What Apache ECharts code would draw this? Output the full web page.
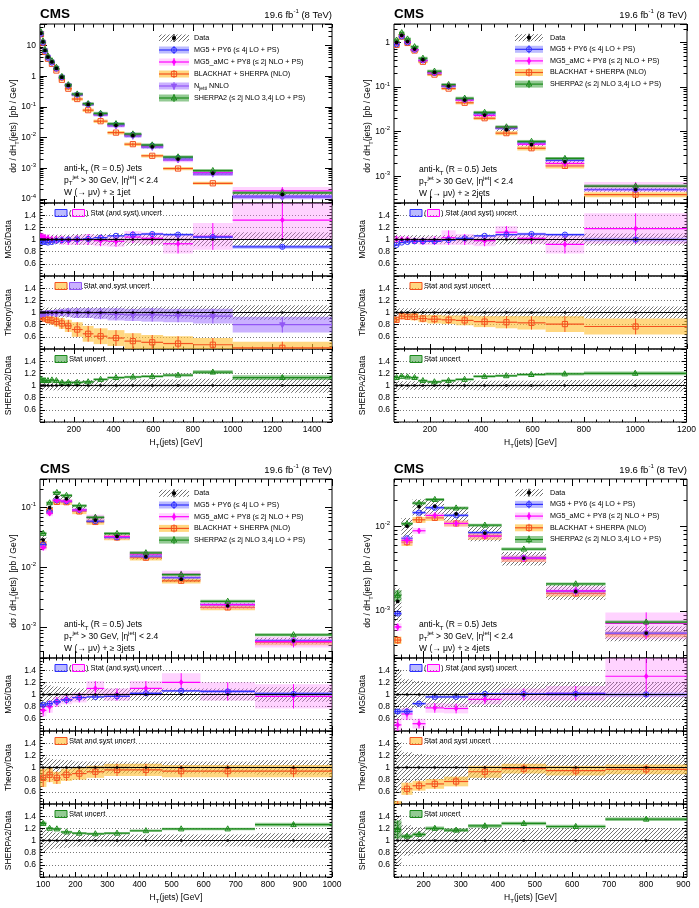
<!DOCTYPE html>
<html>
<head>
<meta charset="utf-8">
<title>W + jets, HT(jets)</title>
<script src="https://cdn.jsdelivr.net/npm/echarts@6.0.0/dist/echarts.min.js"></script>
<style>
html, body { margin: 0; padding: 0; background: #fff; }
#chart { width: 699px; height: 908px; }
</style>
</head>
<body>
<div id="chart"></div>
<script>
// ---- W + >= 1 jet ----
var edges1 = [30, 40, 50, 60, 80, 100, 125, 155, 190, 245, 300, 370, 455, 540, 650, 800, 1000, 1500];
var data1 = [25, 13, 6.9, 4.2, 2.9, 1.8, 0.93, 0.5, 0.25, 0.12, 0.056, 0.025, 0.0115, 0.005, 0.002, 6.9e-4, 1.4e-4];
var dataErr1 = [0.08, 0.08, 0.08, 0.08, 0.08, 0.08, 0.08, 0.08, 0.09, 0.09, 0.09, 0.1, 0.1, 0.1, 0.1, 0.11, 0.12];
var mg5R1 = [0.97, 0.96, 0.96, 0.95, 0.96, 0.98, 0.99, 1.0, 1.0, 1.01, 1.03, 1.06, 1.08, 1.09, 1.08, 1.04, 0.88];
var mg5E1 = [0.01, 0.01, 0.01, 0.01, 0.01, 0.01, 0.01, 0.01, 0.01, 0.01, 0.01, 0.01, 0.015, 0.015, 0.02, 0.02, 0.03];
var amcR1 = [1.05, 1.04, 1.03, 1.02, 1.0, 1.0, 0.99, 0.98, 0.99, 1.0, 0.98, 0.97, 1.04, 1.02, 0.93, 1.05, 1.32];
var amcE1 = [0.06, 0.06, 0.06, 0.06, 0.06, 0.06, 0.07, 0.07, 0.08, 0.09, 0.09, 0.09, 0.1, 0.1, 0.16, 0.22, 0.32];
var bhR1 = [0.93, 0.92, 0.9, 0.88, 0.87, 0.85, 0.82, 0.78, 0.72, 0.65, 0.61, 0.58, 0.53, 0.51, 0.49, 0.47, 0.42];
var bhE1 = [0.03, 0.04, 0.05, 0.06, 0.07, 0.08, 0.09, 0.1, 0.12, 0.13, 0.13, 0.13, 0.13, 0.12, 0.12, 0.11, 0.1];
var njR1 = [0.97, 0.98, 0.98, 0.99, 0.99, 0.99, 1.0, 1.0, 0.99, 0.99, 0.98, 0.97, 0.96, 0.96, 0.95, 0.94, 0.8];
var njE1 = [0.05, 0.05, 0.05, 0.05, 0.05, 0.06, 0.06, 0.07, 0.08, 0.08, 0.09, 0.1, 0.1, 0.11, 0.11, 0.12, 0.13];
var sh2R1 = [1.1, 1.08, 1.08, 1.08, 1.09, 1.08, 1.05, 1.05, 1.05, 1.06, 1.1, 1.13, 1.14, 1.15, 1.17, 1.22, 1.13];
var sh2E1 = [0.02, 0.02, 0.02, 0.02, 0.02, 0.02, 0.02, 0.02, 0.02, 0.02, 0.02, 0.02, 0.02, 0.02, 0.025, 0.03, 0.04];

// ---- W + >= 2 jets ----
var edges2 = [60, 80, 100, 125, 155, 190, 245, 300, 370, 455, 540, 650, 800, 1200];
var data2 = [1.0, 1.44, 1.05, 0.71, 0.41, 0.214, 0.105, 0.051, 0.0235, 0.011, 0.0051, 0.0021, 5.0e-4];
var dataErr2 = [0.08, 0.07, 0.07, 0.07, 0.07, 0.07, 0.07, 0.07, 0.08, 0.08, 0.08, 0.09, 0.1];
var mg5R2 = [0.91, 0.95, 0.96, 0.97, 0.97, 0.97, 0.99, 1.02, 1.06, 1.08, 1.09, 1.08, 1.0];
var mg5E2 = [0.015, 0.01, 0.01, 0.01, 0.01, 0.01, 0.01, 0.01, 0.015, 0.015, 0.02, 0.02, 0.03];
var amcR2 = [1.0, 1.0, 1.0, 0.98, 0.97, 0.98, 1.03, 1.0, 0.98, 1.12, 1.02, 0.92, 1.18];
var amcE2 = [0.06, 0.05, 0.05, 0.05, 0.06, 0.07, 0.12, 0.09, 0.09, 0.1, 0.09, 0.15, 0.25];
var bhR2 = [0.88, 0.94, 0.93, 0.93, 0.9, 0.89, 0.88, 0.87, 0.85, 0.84, 0.83, 0.81, 0.77];
var bhE2 = [0.05, 0.05, 0.05, 0.06, 0.06, 0.07, 0.07, 0.08, 0.09, 0.1, 0.11, 0.13, 0.13];
var sh2R2 = [1.13, 1.15, 1.14, 1.13, 1.08, 1.06, 1.08, 1.1, 1.15, 1.16, 1.18, 1.19, 1.2];
var sh2E2 = [0.02, 0.02, 0.02, 0.02, 0.02, 0.02, 0.02, 0.02, 0.02, 0.02, 0.02, 0.025, 0.03];

// ---- W + >= 3 jets ----
var edges3 = [90, 110, 130, 155, 190, 235, 290, 370, 470, 590, 760, 1000];
var data3 = [0.029, 0.1, 0.15, 0.14, 0.096, 0.062, 0.033, 0.0152, 0.0064, 0.0023, 6.0e-4];
var dataErr3 = [0.2, 0.15, 0.13, 0.12, 0.1, 0.1, 0.1, 0.1, 0.1, 0.1, 0.12];
var mg5R3 = [0.83, 0.85, 0.88, 0.91, 0.95, 0.96, 0.97, 1.02, 1.06, 1.05, 1.01];
var mg5E3 = [0.02, 0.015, 0.015, 0.01, 0.01, 0.01, 0.01, 0.015, 0.015, 0.02, 0.03];
var amcR3 = [0.74, 0.8, 0.88, 0.92, 0.95, 1.1, 1.0, 1.1, 1.2, 1.05, 0.97];
var amcE3 = [0.1, 0.1, 0.08, 0.08, 0.08, 0.12, 0.1, 0.12, 0.15, 0.15, 0.2];
var bhR3 = [0.83, 0.88, 0.83, 0.88, 0.9, 0.93, 0.96, 0.96, 0.94, 0.94, 0.94];
var bhE3 = [0.15, 0.12, 0.1, 0.1, 0.1, 0.1, 0.1, 0.1, 0.1, 0.1, 0.1];
var sh2R3 = [1.28, 1.2, 1.19, 1.14, 1.12, 1.11, 1.12, 1.16, 1.19, 1.19, 1.26];
var sh2E3 = [0.03, 0.02, 0.02, 0.02, 0.02, 0.02, 0.02, 0.02, 0.02, 0.02, 0.03];

// ---- W + >= 4 jets ----
var edges4 = [120, 140, 170, 205, 255, 320, 410, 530, 690, 910];
var data4 = [1.3e-3, 0.01, 0.017, 0.0172, 0.014, 0.0083, 0.0042, 0.0017, 5.5e-4];
var dataErr4 = [0.42, 0.25, 0.22, 0.2, 0.2, 0.2, 0.18, 0.2, 0.2];
var mg5R4 = [0.72, 0.72, 0.85, 0.96, 0.96, 1.01, 1.01, 1.01, 1.0];
var mg5E4 = [0.04, 0.03, 0.02, 0.02, 0.02, 0.02, 0.02, 0.03, 0.03];
var amcR4 = [0.5, 0.68, 0.52, 0.78, 0.77, 0.92, 1.0, 1.02, 1.3];
var amcE4 = [0.1, 0.1, 0.08, 0.08, 0.08, 0.08, 0.1, 0.12, 0.35];
var bhR4 = [0.35, 0.65, 0.7, 0.73, 0.77, 0.93, 0.98, 0.95, 0.97];
var bhE4 = [0.1, 0.1, 0.08, 0.08, 0.08, 0.1, 0.08, 0.08, 0.08];
var sh2R4 = [1.18, 1.07, 1.1, 1.2, 1.17, 1.24, 1.28, 1.23, 1.35];
var sh2E4 = [0.15, 0.03, 0.03, 0.03, 0.03, 0.03, 0.03, 0.03, 0.03];

var FONT = 'Liberation Sans, Arial, Helvetica, sans-serif';

var ST = {
  mg5: {name: 'MG5 + PY6 (≤ 4j LO + PS)', line: '#2f2fff', band: 'rgba(105,105,255,0.45)', sym: 'circle'},
  amc: {name: 'MG5_aMC + PY8 (≤ 2j NLO + PS)', line: '#ff00ff', band: 'rgba(255,120,255,0.33)', sym: 'diamond'},
  bh: {name: 'BLACKHAT + SHERPA (NLO)', line: '#f4511e', band: 'rgba(255,190,50,0.62)', sym: 'square'},
  nj: {name: 'N{sub|jetti} NNLO', line: '#9257f5', band: 'rgba(150,100,255,0.5)', sym: 'triangleDown'},
  sh2: {name: 'SHERPA2 (≤ 2j NLO 3,4j LO + PS)', line: '#1c8a1c', band: 'rgba(40,150,40,0.5)', sym: 'triangle'}
};

var panels = [
  {edges: edges1, data: data1, err: dataErr1, xr: [30, 1500], yr: [7.4e-5, 50], major: 200, minor: 50, jets: '1jet',
   m: {mg5: [mg5R1, mg5E1], amc: [amcR1, amcE1], bh: [bhR1, bhE1], nj: [njR1, njE1], sh2: [sh2R1, sh2E1]}},
  {edges: edges2, data: data2, err: dataErr2, xr: [60, 1200], yr: [2.5e-4, 2.6], major: 200, minor: 50, jets: '2jets',
   m: {mg5: [mg5R2, mg5E2], amc: [amcR2, amcE2], bh: [bhR2, bhE2], sh2: [sh2R2, sh2E2]}},
  {edges: edges3, data: data3, err: dataErr3, xr: [90, 1000], yr: [3.1e-4, 0.3], major: 100, minor: 20, jets: '3jets',
   m: {mg5: [mg5R3, mg5E3], amc: [amcR3, amcE3], bh: [bhR3, bhE3], sh2: [sh2R3, sh2E3]}},
  {edges: edges4, data: data4, err: dataErr4, xr: [120, 910], yr: [2.8e-4, 0.036], major: 100, minor: 20, jets: '4jets',
   m: {mg5: [mg5R4, mg5E4], amc: [amcR4, amcE4], bh: [bhR4, bhE4], sh2: [sh2R4, sh2E4]}}
];

// page layout of the four blocks (main pad + three ratio pads)
var LAYOUT = [
  {x0: 40, x1: 332, top: 24, yb: [203, 276, 349, 422], lg: [159, 189, 194, 38, 12], an: [64, 169], rl: 55},
  {x0: 394, x1: 687, top: 24, yb: [203, 276, 349, 422], lg: [515, 543, 550, 37.7, 11.6], an: [419, 170], rl: 410},
  {x0: 40, x1: 332, top: 479, yb: [658, 731, 804, 877], lg: [159, 189, 194, 493.3, 11.7], an: [64, 625], rl: 55},
  {x0: 394, x1: 687, top: 479, yb: [658, 731, 804, 877], lg: [515, 543, 550, 492.7, 11.7], an: [419, 625], rl: 410}
];
var RATIO_ROWS = [['amc', 'mg5'], ['bh', 'nj'], ['sh2']];
var RATIO_TITLES = ['MG5/Data', 'Theory/Data', 'SHERPA2/Data'];
var MAIN_ORDER = ['bh', 'mg5', 'amc', 'nj', 'sh2'];

var HATCH = (function () {
  var c = document.createElement('canvas');
  c.width = 4; c.height = 4;
  var g = c.getContext('2d');
  g.strokeStyle = '#333'; g.lineWidth = 0.7;
  g.beginPath();
  g.moveTo(0, 4); g.lineTo(4, 0);
  g.moveTo(-1, 1); g.lineTo(1, -1);
  g.moveTo(3, 5); g.lineTo(5, 3);
  g.stroke();
  return {image: c, repeat: 'repeat'};
})();

function linTicks(r, step, skip) {
  var out = [];
  for (var v = Math.ceil(r[0] / step) * step; v <= r[1] + 1e-9; v += step) {
    if (skip && v % skip === 0) continue;
    out.push(v);
  }
  return out;
}
function logMinors(r) {
  var out = [];
  for (var n = Math.floor(Math.log10(r[0])); n <= Math.ceil(Math.log10(r[1])); n++) {
    for (var k = 2; k <= 9; k++) {
      var v = k * Math.pow(10, n);
      if (v > r[0] && v < r[1]) out.push(v);
    }
  }
  return out;
}
function logLabel(v) {
  var n = Math.log10(v), k = Math.round(n);
  if (Math.abs(n - k) > 1e-6) return '';
  if (k === 0) return '1';
  if (k === 1) return '10';
  return '10{e|' + k + '}';
}
function ratioLabel(v) {
  var r = Math.round(v * 10) / 10;
  if (r < 0.5 || r > 1.5) return '';
  return String(r);
}
function plainLabel(v) { return String(v); }

function marker(sym, color, x, y, r) {
  var open = {stroke: color, lineWidth: 1, fill: 'none'};
  var full = {stroke: color, lineWidth: 0.8, fill: color};
  switch (sym) {
    case 'circle': return {type: 'circle', shape: {cx: x, cy: y, r: r}, style: open};
    case 'square': return {type: 'rect', shape: {x: x - r, y: y - r, width: 2 * r, height: 2 * r}, style: open};
    case 'triangle': return {type: 'polygon', shape: {points: [[x, y - r * 1.2], [x - r * 1.05, y + r * 0.75], [x + r * 1.05, y + r * 0.75]]}, style: open};
    case 'triangleDown': return {type: 'polygon', shape: {points: [[x, y + r * 1.2], [x - r * 1.05, y - r * 0.75], [x + r * 1.05, y - r * 0.75]]}, style: full};
    case 'diamond': return {type: 'polygon', shape: {points: [[x, y - r], [x + r * 0.7, y], [x, y + r], [x - r * 0.7, y]]}, style: full};
    default: return {type: 'circle', shape: {cx: x, cy: y, r: r}, style: {fill: color}};
  }
}

// each item: [x0, x1, value, low, high]
function binItems(edges, vals, errs, base, ratio) {
  var out = [];
  for (var i = 0; i < vals.length; i++) {
    var v = base ? base[i] * vals[i] : vals[i];
    var lo = ratio ? v - errs[i] : v * (1 - errs[i]);
    var hi = ratio ? v + errs[i] : v * (1 + errs[i]);
    out.push([edges[i], edges[i + 1], v, lo, hi]);
  }
  return out;
}
function dataRatioItems(edges, data, errs) {
  return data.map(function (d, i) {
    var r = d / data[i]; // data / data
    return [edges[i], edges[i + 1], r, r - errs[i], r + errs[i]];
  });
}

function hatchRenderer(params, api) {
  var a = api.coord([api.value(0), api.value(4)]);
  var b = api.coord([api.value(1), api.value(3)]);
  return {type: 'rect', shape: {x: a[0], y: a[1], width: b[0] - a[0], height: b[1] - a[1]}, style: {fill: HATCH}};
}
function modelRenderer(st, minH) {
  return function (params, api) {
    var x0 = api.value(0), x1 = api.value(1), v = api.value(2), lo = api.value(3), hi = api.value(4);
    var xc = (x0 + x1) / 2;
    var a = api.coord([x0, hi]), b = api.coord([x1, lo]);
    var p0 = api.coord([x0, v]), p1 = api.coord([x1, v]);
    var c = api.coord([xc, v]), eh = api.coord([xc, hi]), el = api.coord([xc, lo]);
    var top = a[1], h = b[1] - a[1];
    if (h < minH) { top = c[1] - minH / 2; h = minH; }
    return {type: 'group', children: [
      {type: 'rect', shape: {x: a[0], y: top, width: b[0] - a[0], height: h}, style: {fill: st.band}},
      {type: 'line', shape: {x1: p0[0], y1: p0[1], x2: p1[0], y2: p1[1]}, style: {stroke: st.line, lineWidth: 1.2}},
      {type: 'line', shape: {x1: c[0], y1: eh[1], x2: c[0], y2: el[1]}, style: {stroke: st.line, lineWidth: 1}},
      marker(st.sym, st.line, c[0], c[1], 2.6)
    ]};
  };
}
function dataRenderer(ratio) {
  return function (params, api) {
    var x0 = api.value(0), x1 = api.value(1), v = api.value(2);
    var c = api.coord([(x0 + x1) / 2, v]);
    var kids = [];
    if (ratio) {
      var p0 = api.coord([x0, v]), p1 = api.coord([x1, v]);
      kids.push({type: 'line', shape: {x1: p0[0], y1: p0[1], x2: p1[0], y2: p1[1]}, style: {stroke: '#000', lineWidth: 1.2}});
    }
    kids.push(marker('dot', '#000', c[0], c[1], ratio ? 1.3 : 1.9));
    return {type: 'group', children: kids};
  };
}
function cs(xi, yi, render, data) {
  return {type: 'custom', xAxisIndex: xi, yAxisIndex: yi, clip: true, silent: true,
    renderItem: render, data: data, encode: {x: [0, 1], y: [2, 3, 4]}};
}

function T(x, y, s, size, o) {
  o = o || {};
  var small = Math.round(size * 0.68);
  return {type: 'text', x: x, y: y, rotation: o.rot || 0, z: 100, silent: true,
    style: {text: s, fontSize: size, fontFamily: FONT, fontWeight: o.bold ? 'bold' : 'normal', fill: '#000',
      align: o.align || 'left', verticalAlign: 'middle', textAlign: o.align || 'left', textVerticalAlign: 'middle',
      lineHeight: Math.round(size * 1.45),
      rich: {
        sub: {fontSize: small, lineHeight: small, fontFamily: FONT, verticalAlign: 'bottom', fill: '#000'},
        sup: {fontSize: small, lineHeight: small, fontFamily: FONT, verticalAlign: 'top', fill: '#000'}
      }}};
}
function G(el) { el.z = 100; el.silent = true; return el; }

var grids = [], xAxis = [], yAxis = [], series = [], graphic = [];

panels.forEach(function (P, pi) {
  var Q = LAYOUT[pi];
  var tops = [Q.top, Q.yb[0], Q.yb[1], Q.yb[2]];
  var majors = linTicks(P.xr, P.major), minors = linTicks(P.xr, P.minor, P.major);
  for (var k = 0; k < 4; k++) {
    var g = grids.length, main = k === 0;
    grids.push({left: Q.x0, top: tops[k], width: Q.x1 - Q.x0, height: Q.yb[k] - tops[k],
      show: true, borderColor: '#000', borderWidth: 1});
    var xi = xAxis.length, tl = main ? 7 : 5;
    [['bottom', majors, tl, k === 3], ['bottom', minors, tl / 2, false],
     ['top', majors, tl, false], ['top', minors, tl / 2, false]].forEach(function (a) {
      xAxis.push({type: 'value', gridIndex: g, position: a[0], min: P.xr[0], max: P.xr[1],
        axisLine: {show: false}, splitLine: {show: false},
        axisTick: {show: true, inside: true, length: a[2], customValues: a[1], lineStyle: {color: '#000', width: 1}},
        axisLabel: {show: a[3], customValues: a[1], formatter: plainLabel, fontSize: 8.5, color: '#000', margin: 3, fontFamily: FONT}});
    });
    var yi = yAxis.length;
    if (main) {
      var lm = logMinors(P.yr);
      [['left', null, 7, true], ['left', lm, 3.5, false], ['right', null, 7, false], ['right', lm, 3.5, false]].forEach(function (a) {
        var ax = {type: 'log', logBase: 10, gridIndex: g, position: a[0], min: P.yr[0], max: P.yr[1],
          axisLine: {show: false}, splitLine: {show: false},
          axisTick: {show: true, inside: true, length: a[2], lineStyle: {color: '#000'}},
          axisLabel: {show: a[3], formatter: logLabel, fontSize: 8.5, color: '#000', margin: 4, lineHeight: 12, fontFamily: FONT,
            rich: {e: {fontSize: 6, lineHeight: 6, fontFamily: FONT, verticalAlign: 'top', color: '#000'}}}};
        if (a[1]) ax.axisTick.customValues = a[1];
        yAxis.push(ax);
      });
      series.push(cs(xi, yi, hatchRenderer, binItems(P.edges, P.data, P.err, null, false)));
      MAIN_ORDER.forEach(function (key) {
        if (!P.m[key]) return;
        series.push(cs(xi, yi, modelRenderer(ST[key], 3), binItems(P.edges, P.m[key][0], P.m[key][1], P.data, false)));
      });
      series.push(cs(xi, yi, dataRenderer(false), binItems(P.edges, P.data, P.err, null, false)));
    } else {
      ['left', 'right'].forEach(function (pos, j) {
        yAxis.push({type: 'value', gridIndex: g, position: pos, min: 0.4, max: 1.6, interval: 0.2,
          axisLine: {show: false},
          splitLine: {show: j === 0, lineStyle: {color: '#555', type: [1, 2], width: 0.8}},
          axisTick: {show: true, inside: true, length: 5, lineStyle: {color: '#000'}},
          minorTick: {show: true, splitNumber: 4, length: 2.5, lineStyle: {color: '#000'}},
          axisLabel: {show: j === 0, formatter: ratioLabel, fontSize: 8.5, color: '#000', margin: 4, fontFamily: FONT}});
      });
      var dr = dataRatioItems(P.edges, P.data, P.err);
      series.push(cs(xi, yi, hatchRenderer, dr));
      RATIO_ROWS[k - 1].forEach(function (key) {
        if (!P.m[key]) return;
        series.push(cs(xi, yi, modelRenderer(ST[key], 1.2), binItems(P.edges, P.m[key][0], P.m[key][1], null, true)));
      });
      series.push(cs(xi, yi, dataRenderer(true), dr));
      graphic.push(T(Q.x0 - 31, (tops[k] + Q.yb[k]) / 2, RATIO_TITLES[k - 1], 8.5, {rot: Math.PI / 2, align: 'center'}));
    }
  }

  // titles and axis names
  graphic.push(T(Q.x0, Q.top - 10, 'CMS', 13.5, {bold: true}));
  graphic.push(T(Q.x1, Q.top - 9, '19.6 fb{sup|-1} (8 TeV)', 9.5, {align: 'right'}));
  graphic.push(T(Q.x0 - 26, Q.top + 102, 'dσ / dH{sub|T}(jets)  [pb / GeV]', 8.5, {rot: Math.PI / 2, align: 'center'}));
  graphic.push(T((Q.x0 + Q.x1) / 2 - 10, Q.yb[3] + 21, 'H{sub|T}(jets) [GeV]', 8.5, {align: 'center'}));

  // selection text
  graphic.push(T(Q.an[0], Q.an[1], 'anti-k{sub|T} (R = 0.5) Jets', 8.5));
  graphic.push(T(Q.an[0], Q.an[1] + 11.7, 'p{sub|T}{sup|jet} > 30 GeV, |η{sup|jet}| < 2.4', 8.5));
  graphic.push(T(Q.an[0], Q.an[1] + 23.4, 'W (→ μν) + ≥ ' + P.jets, 8.5));

  // main legend
  var lg = Q.lg, ix0 = lg[0], ix1 = lg[1], cxl = (ix0 + ix1) / 2;
  var rows = ['data', 'mg5', 'amc', 'bh', 'nj', 'sh2'].filter(function (kk) { return kk === 'data' || P.m[kk]; });
  rows.forEach(function (kk, r) {
    var cy = lg[3] + r * lg[4];
    if (kk === 'data') {
      graphic.push(G({type: 'rect', shape: {x: ix0, y: cy - 3.5, width: ix1 - ix0, height: 7}, style: {fill: HATCH}}));
      graphic.push(G({type: 'line', shape: {x1: cxl, y1: cy - 4, x2: cxl, y2: cy + 4}, style: {stroke: '#000', lineWidth: 1}}));
      graphic.push(G(marker('dot', '#000', cxl, cy, 2.1)));
      graphic.push(T(lg[2], cy, 'Data', 7.2));
    } else {
      var st = ST[kk];
      graphic.push(G({type: 'rect', shape: {x: ix0, y: cy - 3.5, width: ix1 - ix0, height: 7}, style: {fill: st.band}}));
      graphic.push(G({type: 'line', shape: {x1: ix0, y1: cy, x2: ix1, y2: cy}, style: {stroke: st.line, lineWidth: 1.2}}));
      graphic.push(G({type: 'line', shape: {x1: cxl, y1: cy - 4, x2: cxl, y2: cy + 4}, style: {stroke: st.line, lineWidth: 1}}));
      graphic.push(G(marker(st.sym, st.line, cxl, cy, 2.6)));
      graphic.push(T(lg[2], cy, st.name, 7.2));
    }
  });

  // ratio pad legends
  function box(x, y, st) {
    graphic.push(G({type: 'rect', shape: {x: x, y: y - 3.5, width: 12, height: 7}, style: {fill: st.band, stroke: st.line, lineWidth: 1}}));
  }
  var rx = Q.rl, ry = [Q.yb[0] + 10, Q.yb[1] + 10, Q.yb[2] + 10];
  box(rx, ry[0], ST.mg5);
  graphic.push(T(rx + 14, ry[0], '(', 7.5));
  box(rx + 17.5, ry[0], ST.amc);
  graphic.push(T(rx + 31, ry[0], ') Stat (and syst) uncert', 7.5));
  box(rx, ry[1], ST.bh);
  if (P.m.nj) {
    box(rx + 14.5, ry[1], ST.nj);
    graphic.push(T(rx + 28.5, ry[1], 'Stat and syst uncert', 7.5));
  } else {
    graphic.push(T(rx + 14, ry[1], 'Stat and syst uncert', 7.5));
  }
  box(rx, ry[2], ST.sh2);
  graphic.push(T(rx + 14, ry[2], 'Stat uncert', 7.5));
});

var chart = echarts.init(document.getElementById('chart'), null, {renderer: 'canvas'});
chart.setOption({
  animation: false,
  backgroundColor: '#fff',
  textStyle: {fontFamily: FONT},
  grid: grids,
  xAxis: xAxis,
  yAxis: yAxis,
  series: series,
  graphic: {elements: graphic}
});
</script>
</body>
</html>
